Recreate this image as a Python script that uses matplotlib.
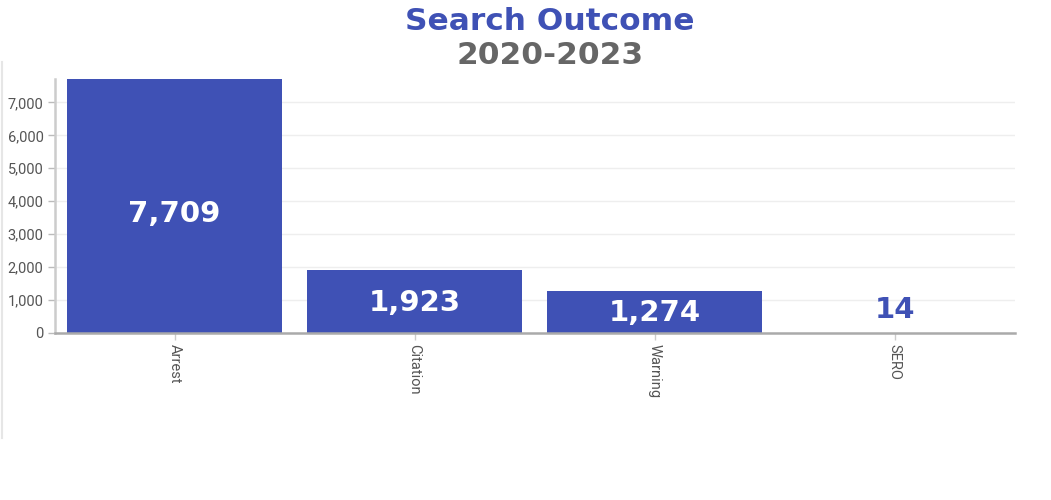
import matplotlib
matplotlib.use("Agg")
import matplotlib.pyplot as plt
from matplotlib.ticker import FuncFormatter
from matplotlib.lines import Line2D

categories = ["Arrest", "Citation", "Warning", "SERO"]
values = [7709, 1923, 1274, 14]
yticks = [0, 1000, 2000, 3000, 4000, 5000, 6000, 7000]

BLUE = "#3F51B5"

fig = plt.figure(figsize=(10.51, 5.0), dpi=100)
ax = fig.add_axes([54.5/1051, 1-333/500, 960/1051, 254/500])

x = list(range(len(categories)))
ax.bar(x, values, width=0.895, color=BLUE, zorder=2)
ax.set_xlim(-0.5, len(categories)-0.5)
ax.set_ylim(0, max(values))

ax.set_yticks(yticks)
ax.yaxis.set_major_formatter(FuncFormatter(lambda v, p: f"{int(v):,}"))
ax.set_xticks(x)
ax.set_xticklabels(categories, rotation=-90, fontfamily="Roboto", fontsize=10.5, color="#555555")
for lab in ax.get_yticklabels():
    lab.set_fontfamily("Roboto")
ax.tick_params(axis="y", labelsize=10.5, labelcolor="#555555", color="#bbbbbb", length=5, width=1, pad=3)
ax.tick_params(axis="x", color="#cccccc", length=5, width=1, pad=3)

ax.grid(axis="y", color="#eeeeee", linewidth=1, zorder=0)
ax.set_axisbelow(True)
for s in ["top", "right"]:
    ax.spines[s].set_visible(False)
ax.spines["left"].set_color("#cccccc")
ax.spines["left"].set_linewidth(1.8)
ax.spines["bottom"].set_color("#aaaaaa")
ax.spines["bottom"].set_linewidth(1.8)

ymax = max(values)
for xi, v in zip(x, values):
    txt = f"{v:,}"
    if v / ymax > 0.08:
        ax.text(xi, v*0.47, txt, ha="center", va="center", color="white",
                fontsize=21, fontweight="heavy", fontfamily="DejaVu Sans", zorder=3)
    else:
        ax.annotate(txt, (xi, v), xytext=(0, 6), textcoords="offset points",
                    ha="center", va="bottom", color=BLUE,
                    fontsize=21, fontweight="heavy", fontfamily="DejaVu Sans", zorder=3)

fig.text(550/1051, 1-21/500, "Search Outcome", ha="center", va="center",
         fontsize=22.5, fontweight="heavy", color=BLUE, fontfamily="DejaVu Sans")
fig.text(550/1051, 1-55/500, "2020-2023", ha="center", va="center",
         fontsize=22.5, fontweight="heavy", color="#666666", fontfamily="DejaVu Sans")

fig.add_artist(Line2D([2/1051, 2/1051], [1-62/500, 1-438/500], color="#e6e6e6", linewidth=1.5,
                      transform=fig.transFigure))

fig.savefig("out.png", dpi=100)
